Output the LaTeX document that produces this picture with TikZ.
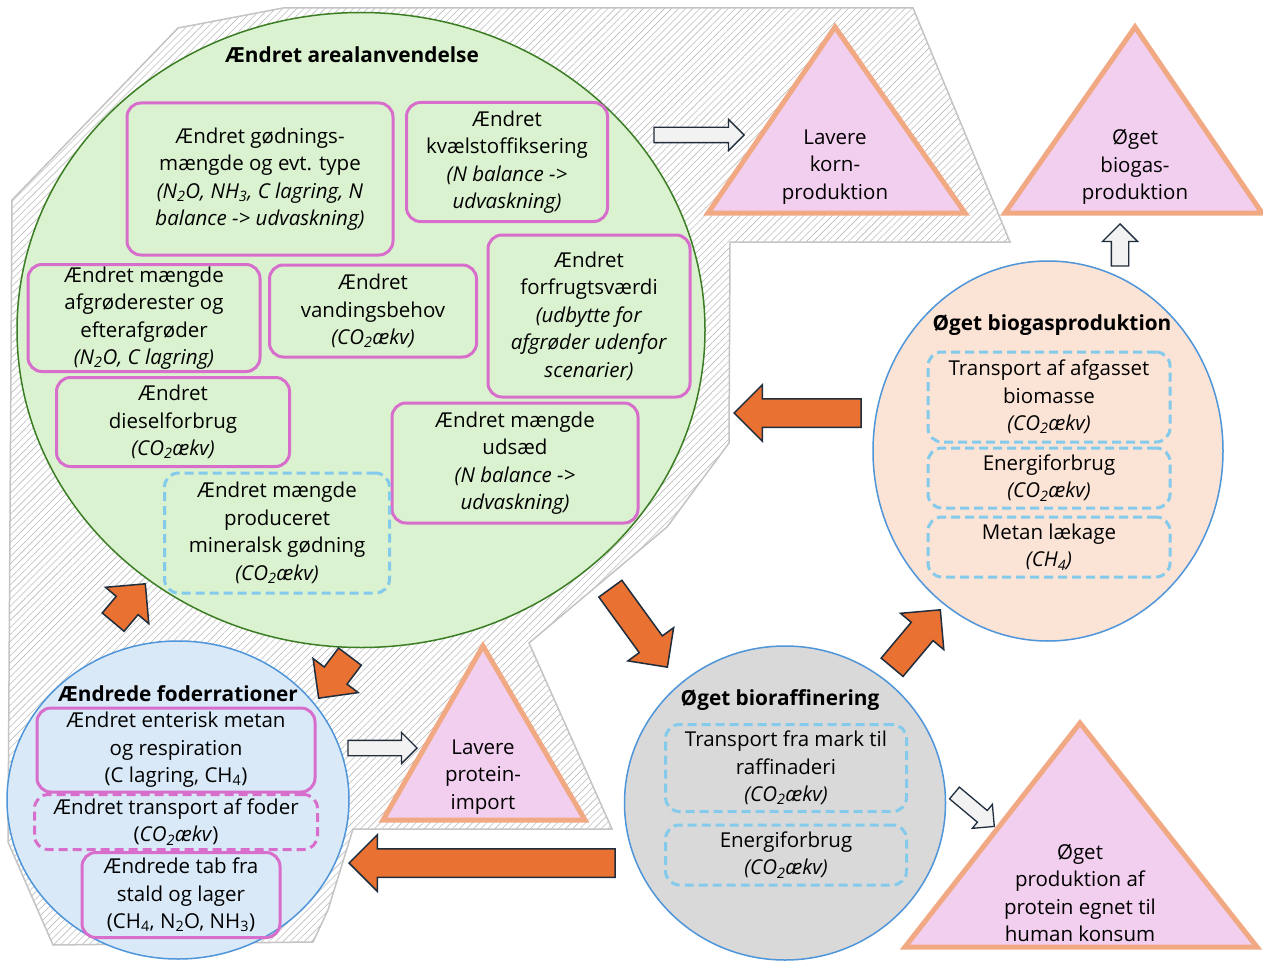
\documentclass[tikz,border=0pt]{standalone}
\usepackage{fontspec}
\setmainfont{Open Sans}
\usetikzlibrary{shapes.geometric,shapes.arrows,patterns.meta}

\definecolor{hatchgray}{HTML}{C4C4C4}
\definecolor{hatchline}{HTML}{BDBDBD}
\definecolor{arealgreen}{HTML}{DAF2D0}
\definecolor{arealline}{HTML}{3B7D23}
\definecolor{foderblue}{HTML}{DAE9F8}
\definecolor{circleline}{HTML}{4E95D9}
\definecolor{biogaspeach}{HTML}{FBE3D6}
\definecolor{raffgray}{HTML}{D9D9D9}
\definecolor{tripink}{HTML}{F2CEEF}
\definecolor{triline}{HTML}{F1A983}
\definecolor{boxmagenta}{HTML}{D86ECC}
\definecolor{boxcyan}{HTML}{83CAEB}
\definecolor{arroworange}{HTML}{E97132}
\definecolor{arrowline}{HTML}{1F2D3D}
\definecolor{arrowwhite}{HTML}{F2F2F2}

\tikzset{
  txt/.style={font=\fontsize{20.5}{27.5}\selectfont, align=center, inner sep=0pt},
  heading/.style={font=\fontsize{20.8}{24}\selectfont\bfseries, inner sep=0pt},
  sector/.style={ellipse, draw=circleline, line width=1.5pt, inner sep=0pt},
  effect/.style={txt, draw=boxmagenta, line width=3pt, rounded corners=14pt},
  effectdash/.style={effect, dash pattern=on 9pt off 5pt},
  proxy/.style={txt, draw=boxcyan, line width=3pt, rounded corners=14pt, dash pattern=on 9pt off 5pt},
  result/.style={fill=tripink, draw=triline, line width=5pt, line join=miter},
  bigarrow/.style={single arrow, draw=arrowline, fill=arroworange, line width=1.5pt, inner xsep=0pt, inner ysep=13.5pt, single arrow head extend=14pt, anchor=tip},
  smallarrow/.style={single arrow, draw=arrowline, fill=arrowwhite, line width=1.3pt, inner xsep=0pt, inner ysep=7pt, single arrow head extend=8pt, anchor=tip}
}

\begin{document}
\begin{tikzpicture}[x=1pt, y=-1pt]
\useasboundingbox (0,0) rectangle (1263,963);
\fill[white] (0,0) rectangle (1263,963);
\draw[draw=hatchgray, line width=1.5pt, pattern={Lines[angle=45,distance=5pt,line width=0.6pt]}, pattern color=hatchline]
  (12,200) -- (178,28) -- (283,8) -- (913,8) -- (1010,242) -- (730,242) -- (729,443) -- (667,527)
  -- (529,643) -- (612,829) -- (353,829) -- (328,910) -- (313,942) -- (53,945) -- (8,842) -- cycle;

\node[sector, draw=arealline, fill=arealgreen, minimum width=688pt, minimum height=635pt] (areal) at (361,330) {};
\node[sector, fill=foderblue, minimum width=342pt, minimum height=318pt] (foder) at (178,800) {};
\node[sector, fill=biogaspeach, minimum width=350pt, minimum height=380pt] (biogas) at (1048,451) {};
\node[sector, fill=raffgray, minimum width=321pt, minimum height=314pt] (raff) at (785,803) {};

\node[heading] (arealtitle) at (352,55) {Ændret arealanvendelse};
\node[heading] (fodertitle) at (178,694) {Ændrede foderrationer};
\node[heading] (biogastitle) at (1052,325) {Øget biogasproduktion};
\node[heading] (rafftitle) at (780,700) {Øget bioraffinering};

\node[effect, minimum width=266pt, minimum height=152pt] (goedning) at (260,179)
  {Ændret gødnings-\\mængde og evt. type\\\textit{(N\textsubscript{2}O, NH\textsubscript{3}, C lagring, N}\\\textit{balance -> udvaskning)}};
\node[effect, minimum width=201pt, minimum height=119pt] (kvaelstof) at (507,162)
  {Ændret\\kvælstoffiksering\\\textit{(N balance ->}\\\textit{udvaskning)}};
\node[effect, minimum width=232pt, minimum height=107pt] (rester) at (144,318)
  {Ændret mængde\\afgrøderester og\\efterafgrøder\\\textit{(N\textsubscript{2}O, C lagring)}};
\node[effect, minimum width=207pt, minimum height=92pt] (vanding) at (373,311)
  {Ændret\\vandingsbehov\\\textit{(CO\textsubscript{2}ækv)}};
\node[effect, minimum width=202pt, minimum height=162pt] (forfrugt) at (589,316)
  {Ændret\\forfrugtsværdi\\\textit{(udbytte for}\\\textit{afgrøder udenfor}\\\textit{scenarier)}};
\node[effect, minimum width=233pt, minimum height=89pt] (diesel) at (173,422)
  {Ændret\\dieselforbrug\\\textit{(CO\textsubscript{2}ækv)}};
\node[effect, minimum width=246pt, minimum height=120pt] (udsaed) at (515,463)
  {Ændret mængde\\udsæd\\\textit{(N balance ->}\\\textit{udvaskning)}};
\node[proxy, minimum width=225pt, minimum height=120pt] (mineral) at (277,533)
  {Ændret mængde\\produceret\\mineralsk gødning\\\textit{(CO\textsubscript{2}ækv)}};

\node[effect, minimum width=278pt, minimum height=84pt] (enterisk) at (176,750)
  {Ændret enterisk metan\\og respiration\\(C lagring, CH\textsubscript{4})};
\node[effectdash, minimum width=283pt, minimum height=55pt] (fodertransport) at (176,822)
  {Ændret transport af foder\\(\textit{CO\textsubscript{2}ækv})};
\node[effect, minimum width=198pt, minimum height=85pt] (stald) at (181,895)
  {Ændrede tab fra\\stald og lager\\(CH\textsubscript{4}, N\textsubscript{2}O, NH\textsubscript{3})};

\node[proxy, minimum width=242pt, minimum height=90pt] (afgasset) at (1049,397)
  {Transport af afgasset\\biomasse\\\textit{(CO\textsubscript{2}ækv)}};
\node[proxy, minimum width=242pt, minimum height=60pt] (biogasenergi) at (1049,478)
  {Energiforbrug\\\textit{(CO\textsubscript{2}ækv)}};
\node[proxy, minimum width=242pt, minimum height=60pt] (metan) at (1049,547)
  {Metan lækage\\\textit{(CH\textsubscript{4})}};

\node[proxy, minimum width=241pt, minimum height=87pt] (raffinaderi) at (786,768)
  {Transport fra mark til\\raffinaderi\\\textit{(CO\textsubscript{2}ækv)}};
\node[proxy, minimum width=241pt, minimum height=60pt] (raffenergi) at (786,855)
  {Energiforbrug\\\textit{(CO\textsubscript{2}ækv)}};

\draw[result] (835,27) -- (965,213) -- (708,213) -- cycle;
\node[txt] (korn) at (835,167) {Lavere\\korn-\\produktion};
\draw[result] (1135,27) -- (1262,213) -- (1005,213) -- cycle;
\node[txt] (biogasprod) at (1135,167) {Øget\\biogas-\\produktion};
\draw[result] (483,646) -- (585,820) -- (383,820) -- cycle;
\node[txt] (import) at (483,777) {Lavere\\protein-\\import};
\draw[result] (1080,723) -- (1257,947) -- (905,947) -- cycle;
\node[txt] (human) at (1080,893) {Øget\\produktion af\\protein egnet til\\human konsum};

\node[bigarrow, minimum height=127pt, rotate=180] (biogastoareal) at (733,413) {};
\node[bigarrow, minimum height=266pt, rotate=180] (rafftofoder) at (348,863) {};
\node[bigarrow, minimum height=97pt, rotate=-54] (arealtoraff) at (668,668) {};
\node[bigarrow, minimum height=75pt, rotate=50] (rafftobiogas) at (941,609) {};
\node[bigarrow, minimum height=50pt, rotate=50] (fodertoareal) at (146,583) {};
\node[bigarrow, minimum height=52pt, rotate=-127] (arealtofoder) at (318,699) {};

\node[smallarrow, minimum height=90pt] (tokorn) at (745,135) {};
\node[smallarrow, minimum height=42pt, inner ysep=8pt, single arrow head extend=9pt, rotate=90] (tobiogasprod) at (1120,223) {};
\node[smallarrow, minimum height=69pt] (toimport) at (418,748) {};
\node[smallarrow, minimum height=52pt, rotate=-40] (tohuman) at (995,827) {};
\end{tikzpicture}
\end{document}
